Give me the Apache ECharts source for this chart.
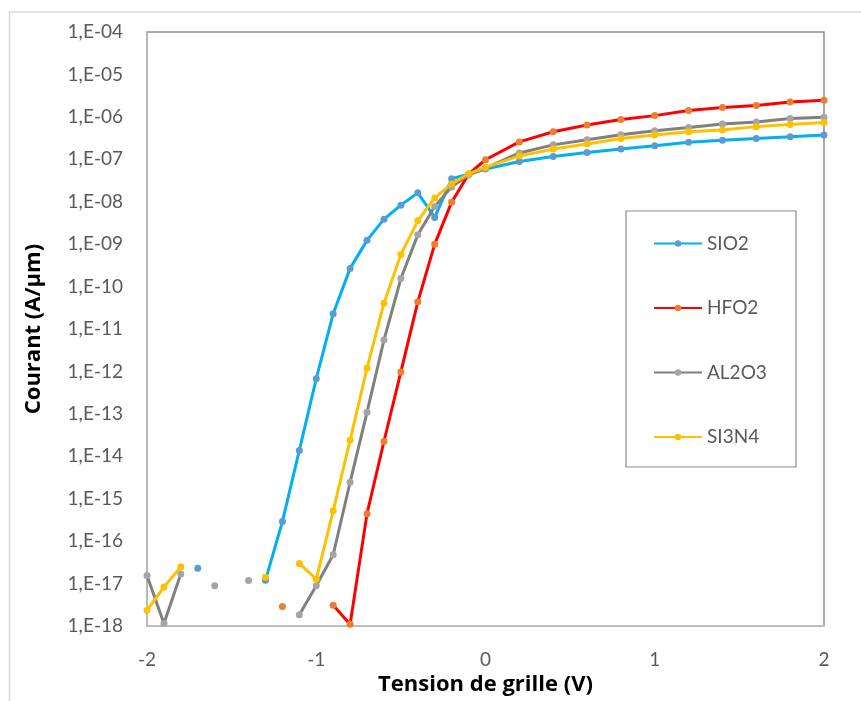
<!DOCTYPE html>
<html>
<head>
<meta charset="utf-8">
<script src="https://cdn.jsdelivr.net/npm/echarts@6/dist/echarts.min.js"></script>
<style>
  html, body { margin: 0; padding: 0; background: #fff; }
  #main { width: 861px; height: 701px; }
</style>
</head>
<body>
<div id="main"></div>
<script>
// tension de grille (V)
var tension = [-2.0, -1.9, -1.8, -1.7, -1.6, -1.5, -1.4, -1.3, -1.2, -1.1, -1.0,
  -0.9, -0.8, -0.7, -0.6, -0.5, -0.4, -0.3, -0.2, -0.1, 0.0,
  0.2, 0.4, 0.6, 0.8, 1.0, 1.2, 1.4, 1.6, 1.8, 2.0];

// courant (A/um), null = pas de point
var sio2 = [null, null, null, 2.3e-17, null, null, null, 1.2e-17, 2.9e-16, 1.38e-14, 6.76e-13,
  2.29e-11, 2.69e-10, 1.23e-9, 3.89e-9, 8.32e-9, 1.62e-8, 4.27e-9, 3.47e-8, 4.47e-8, 5.89e-8,
  8.91e-8, 1.17e-7, 1.45e-7, 1.74e-7, 2.09e-7, 2.51e-7, 2.82e-7, 3.09e-7, 3.39e-7, 3.72e-7];
var hfo2 = [null, null, null, null, null, null, null, null, 2.9e-18, null, null,
  3.1e-18, 1.1e-18, 4.47e-16, 2.24e-14, 9.77e-13, 4.37e-11, 1.0e-9, 9.77e-9, 4.47e-8, 9.77e-8,
  2.57e-7, 4.47e-7, 6.46e-7, 8.71e-7, 1.07e-6, 1.41e-6, 1.66e-6, 1.86e-6, 2.24e-6, 2.45e-6];
var al2o3 = [1.55e-17, 1.15e-18, 1.7e-17, null, 8.9e-18, null, 1.18e-17, null, null, 1.85e-18, 8.9e-18,
  4.8e-17, 2.45e-15, 1.10e-13, 5.50e-12, 1.55e-10, 1.66e-9, 7.76e-9, 2.24e-8, 4.27e-8, 6.17e-8,
  1.41e-7, 2.19e-7, 2.88e-7, 3.80e-7, 4.68e-7, 5.62e-7, 6.76e-7, 7.59e-7, 9.12e-7, 9.77e-7];
var si3n4 = [2.35e-18, 8.3e-18, 2.5e-17, null, null, null, null, 1.42e-17, null, 3.0e-17, 1.27e-17,
  5.2e-16, 2.40e-14, 1.20e-12, 4.07e-11, 5.75e-10, 3.55e-9, 1.23e-8, 2.63e-8, 4.57e-8, 6.46e-8,
  1.20e-7, 1.74e-7, 2.29e-7, 3.09e-7, 3.72e-7, 4.47e-7, 4.90e-7, 5.89e-7, 6.61e-7, 7.41e-7];

var noms = ['SIO2', 'HFO2', 'AL2O3', 'SI3N4'];

function paires(vals) {
  return tension.map(function (x, i) {
    return [x, vals[i] == null ? '-' : vals[i]];
  });
}

function serie(nom, vals, couleurLigne, couleurPoint) {
  return {
    name: nom,
    type: 'line',
    data: paires(vals),
    symbol: 'circle',
    symbolSize: 7,
    showAllSymbol: true,
    connectNulls: false,
    lineStyle: { color: couleurLigne, width: 3 },
    itemStyle: { color: couleurPoint },
    emphasis: { disabled: true }
  };
}

var myChart = echarts.init(document.getElementById('main'));
var police = 'Lato';
var policeTitre = 'Open Sans';

var option = {
  animation: false,
  textStyle: { fontFamily: police },
  graphic: [{
    type: 'rect',
    shape: { x: 9.5, y: 12, width: 900, height: 800 },
    style: { fill: 'none', stroke: '#d9d9d9', lineWidth: 1.5 },
    z: -1
  }, {
    type: 'rect',
    shape: { x: 626, y: 211, width: 170, height: 256 },
    style: { fill: '#fff', stroke: '#8c8c8c', lineWidth: 1.2 },
    z: 10
  }],
  grid: {
    left: 147, top: 32, width: 677, height: 599,
    show: true,
    borderColor: '#8c8c8c',
    borderWidth: 1.5
  },
  legend: {
    orient: 'vertical',
    left: 653,
    top: 234,
    padding: 0,
    itemGap: 45.5,
    itemWidth: 48,
    itemHeight: 8,
    z: 20,
    textStyle: { color: '#595959', fontSize: 19, fontFamily: police },
    data: noms
  },
  xAxis: {
    type: 'value',
    min: -2,
    max: 2,
    interval: 1,
    splitLine: { show: false },
    axisTick: { show: false },
    axisLine: { lineStyle: { color: '#bfbfbf', width: 2 } },
    axisLabel: { color: '#595959', fontSize: 19, margin: 24 },
    name: 'Tension de grille (V)',
    nameLocation: 'middle',
    nameGap: 41,
    nameTextStyle: { color: '#000', fontSize: 22, fontWeight: 'bold', fontFamily: policeTitre }
  },
  yAxis: {
    type: 'log',
    logBase: 10,
    min: 1e-18,
    max: 1e-4,
    interval: 1,
    splitNumber: 14,
    splitLine: { show: false },
    axisTick: { show: false },
    axisLine: { show: true, onZero: false, lineStyle: { color: '#bfbfbf', width: 1.5 } },
    axisLabel: {
      color: '#595959',
      fontSize: 19,
      margin: 24,
      formatter: function (v) {
        var e = Math.round(Math.log10(v));
        var s = Math.abs(e) < 10 ? '0' + Math.abs(e) : '' + Math.abs(e);
        return '1,E' + (e < 0 ? '-' : '+') + s;
      }
    },
    name: 'Courant (A/µm)',
    nameLocation: 'middle',
    nameGap: 102,
    nameTextStyle: { color: '#000', fontSize: 22, fontWeight: 'bold', fontFamily: policeTitre }
  },
  series: [
    serie('SIO2', sio2, '#00b0f0', '#5b9bd5'),
    serie('HFO2', hfo2, '#ff0000', '#ed7d31'),
    serie('AL2O3', al2o3, '#808080', '#a5a5a5'),
    serie('SI3N4', si3n4, '#ffc000', '#ffc000')
  ]
};

myChart.setOption(option);
</script>
</body>
</html>
